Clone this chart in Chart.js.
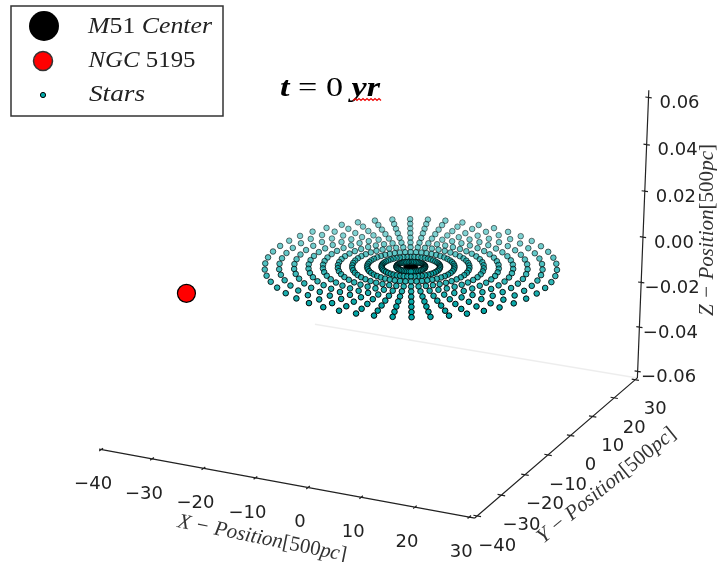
<!DOCTYPE html>
<html>
<head>
<meta charset="utf-8">
<title>M51 and NGC 5195</title>
<script src="https://cdn.jsdelivr.net/npm/chart.js@4"></script>
<style>
    html, body { margin: 0; padding: 0; background: #fff; }
    canvas { display: block; filter: blur(0.65px); }
</style>
</head>
<body>
<canvas id="chart" width="717" height="562"></canvas>
<script>
// Axis ticks
const xTicks = [-40, -30, -20, -10, 0, 10, 20, 30];
const yTicks = [-40, -30, -20, -10, 0, 10, 20, 30];
const zTicks = [-0.06, -0.04, -0.02, 0.00, 0.02, 0.04, 0.06];
const xLimits = [-41, 31];
const yLimits = [-41, 31];
const zLimits = [-0.063, 0.063];
const xAxisStart = -40.4;

// Stars sit on a polar grid around the M51 center
const m51Center = [0.4, -0.8, 0];
const ngc5195 = [-28.5, -29.6, 0];
const ringRadii = [2.5, 5.1, 7.6, 10.2, 12.7, 15.3, 17.8, 20.3, 22.9, 25.4];
const spokeAngles = [
    0, 7.2, 14.4, 21.6, 28.8, 36, 43.2, 50.4, 57.6, 64.8,
    72, 79.2, 86.4, 93.6, 100.8, 108, 115.2, 122.4, 129.6, 136.8,
    144, 151.2, 158.4, 165.6, 172.8, 180, 187.2, 194.4, 201.6, 208.8,
    216, 223.2, 230.4, 237.6, 244.8, 252, 259.2, 266.4, 273.6, 280.8,
    288, 295.2, 302.4, 309.6, 316.8, 324, 331.2, 338.4, 345.6, 352.8
];

// Camera, same idea as mplot3d
const elev = 25.5 * Math.PI / 180;
const azim = -64.6 * Math.PI / 180;
const dist = 10;

function project(x, y, z) {
    const px = (x - xLimits[0]) / (xLimits[1] - xLimits[0]) - 0.5;
    const py = (y - yLimits[0]) / (yLimits[1] - yLimits[0]) - 0.5;
    const pz = (z - zLimits[0]) / (zLimits[1] - zLimits[0]) - 0.5;
    const u = -Math.sin(azim) * px + Math.cos(azim) * py;
    const v = -Math.cos(azim) * Math.sin(elev) * px - Math.sin(azim) * Math.sin(elev) * py + Math.cos(elev) * pz;
    const w = Math.cos(azim) * Math.cos(elev) * px + Math.sin(azim) * Math.cos(elev) * py + Math.sin(elev) * pz;
    const s = dist / (dist - w);
    return { x: u * s, y: v * s, depth: -w };
}

// Build star points, far ones first so near ones paint on top
function buildStars() {
    const stars = [];
    ringRadii.forEach(r => {
        spokeAngles.forEach(a => {
            const rad = a * Math.PI / 180;
            stars.push(project(m51Center[0] + r * Math.cos(rad), m51Center[1] + r * Math.sin(rad), m51Center[2]));
        });
    });
    return stars.sort((p, q) => q.depth - p.depth);
}

// Axis lines and tick marks, NaN breaks the line between pieces
function buildAxes() {
    const gap = { x: NaN, y: NaN };
    const zLow = zLimits[0];
    const pts = [];
    pts.push(project(xAxisStart, yLimits[0], zLow), project(xLimits[1], yLimits[0], zLow), gap);
    pts.push(project(xLimits[1], yLimits[0], zLow), project(xLimits[1], yLimits[1], zLow), gap);
    pts.push(project(xLimits[1], yLimits[1], zLow), project(xLimits[1], yLimits[1], zLimits[1]), gap);
    xTicks.forEach(t => pts.push(project(t, yLimits[0] - 0.7, zLow), project(t, yLimits[0] + 0.7, zLow), gap));
    yTicks.forEach(t => pts.push(project(xLimits[1] - 0.7, t, zLow), project(xLimits[1] + 0.7, t, zLow), gap));
    zTicks.forEach(t => pts.push(project(xLimits[1] - 0.6, yLimits[1], t), project(xLimits[1] + 0.6, yLimits[1], t), gap));
    return pts;
}

function tickText(v, digits) {
    return v.toFixed(digits).replace('-', '\u2212');
}

// Mixed roman / italic text squeezed to a fixed width
function drawRuns(ctx, runs, cx, cy, width, size, rotation, color) {
    ctx.save();
    ctx.translate(cx, cy);
    ctx.rotate(rotation);
    let total = 0;
    runs.forEach(r => {
        ctx.font = `${r[1]} ${size}px "Liberation Serif"`;
        total += ctx.measureText(r[0]).width;
    });
    ctx.scale(width / total, 1);
    ctx.fillStyle = color;
    ctx.textAlign = 'left';
    ctx.textBaseline = 'alphabetic';
    let pos = -total / 2;
    runs.forEach(r => {
        ctx.font = `${r[1]} ${size}px "Liberation Serif"`;
        ctx.fillText(r[0], pos, 0);
        pos += ctx.measureText(r[0]).width;
    });
    ctx.restore();
}

// Tick labels, axis labels, title and legend box
const annotations = {
    id: 'annotations',
    afterDraw(chart) {
        const ctx = chart.ctx;
        const toPixel = p => ({ x: chart.scales.x.getPixelForValue(p.x), y: chart.scales.y.getPixelForValue(p.y) });

        ctx.save();
        ctx.font = '18px "DejaVu Sans"';
        ctx.fillStyle = '#222';
        ctx.textAlign = 'center';
        ctx.textBaseline = 'middle';
        xTicks.forEach(t => {
            const p = toPixel(project(t, yLimits[0], zLimits[0]));
            ctx.fillText(tickText(t, 0), p.x - 8, p.y + 35);
        });
        yTicks.forEach(t => {
            const p = toPixel(project(xLimits[1], t, zLimits[0]));
            ctx.fillText(tickText(t, 0), p.x + 20, p.y + 30);
        });
        zTicks.forEach(t => {
            const p = toPixel(project(xLimits[1], yLimits[1], t));
            ctx.fillText(tickText(t, 2), p.x + 31, p.y + 6);
        });
        ctx.restore();

        const it = 'italic', ro = 'normal';
        drawRuns(ctx, [['X \u2212 Position', it], ['[500', ro], ['pc', it], [']', ro]], 261, 544, 172, 21, 0.2, '#333');
        drawRuns(ctx, [['Y \u2212 Position', it], ['[500', ro], ['pc', it], [']', ro]], 610, 490, 172, 21, -0.68, '#333');
        drawRuns(ctx, [['Z \u2212 Position', it], ['[500', ro], ['pc', it], [']', ro]], 713, 230, 172, 21, -Math.PI / 2, '#333');

        // Title with the spell check squiggle
        drawRuns(ctx, [['t', 'italic bold'], [' = 0 ', 'normal'], ['yr', 'italic bold']], 330, 96, 100, 27, 0, '#000');
        ctx.save();
        ctx.strokeStyle = '#e00';
        ctx.lineWidth = 1.2;
        ctx.beginPath();
        for (let i = 0; i <= 14; i++) {
            const sx = 353 + i * 2;
            const sy = i % 2 ? 98.5 : 100.5;
            if (i === 0) ctx.moveTo(sx, sy); else ctx.lineTo(sx, sy);
        }
        ctx.stroke();
        ctx.restore();

        // Legend
        ctx.save();
        ctx.fillStyle = '#fff';
        ctx.strokeStyle = '#333';
        ctx.lineWidth = 1.5;
        ctx.fillRect(11, 6, 212, 110);
        ctx.strokeRect(11, 6, 212, 110);
        ctx.fillStyle = '#000';
        ctx.beginPath(); ctx.arc(44, 26, 15, 0, Math.PI * 2); ctx.fill();
        ctx.fillStyle = '#f00';
        ctx.beginPath(); ctx.arc(43, 61, 9.5, 0, Math.PI * 2); ctx.fill(); ctx.stroke();
        ctx.fillStyle = '#00aaaa';
        ctx.lineWidth = 1;
        ctx.strokeStyle = '#000';
        ctx.beginPath(); ctx.arc(43, 95, 2.6, 0, Math.PI * 2); ctx.fill(); ctx.stroke();
        ctx.restore();
        drawRuns(ctx, [['M', it], ['51 ', ro], ['Center', it]], 150, 33, 124, 24, 0, '#222');
        drawRuns(ctx, [['NGC', it], [' 5195', ro]], 142, 67, 107, 24, 0, '#222');
        drawRuns(ctx, [['Stars', it]], 117, 101, 56, 24, 0, '#222');
    }
};

// Initialize chart
document.addEventListener('DOMContentLoaded', () => {
    const ctx = document.getElementById('chart').getContext('2d');
    new Chart(ctx, {
        type: 'scatter',
        data: {
            datasets: [
                {
                    label: 'Stars',
                    data: buildStars(),
                    pointRadius: 2.8,
                    borderWidth: 1,
                    backgroundColor: c => `rgba(0, 165, 165, ${starAlpha(c)})`,
                    borderColor: c => `rgba(0, 0, 0, ${starAlpha(c)})`
                },
                {
                    label: 'M51 Center',
                    data: [project(m51Center[0], m51Center[1], m51Center[2])],
                    backgroundColor: '#000',
                    borderColor: '#000',
                    pointRadius: 7
                },
                {
                    label: 'NGC 5195',
                    data: [project(ngc5195[0], ngc5195[1], ngc5195[2])],
                    backgroundColor: '#f00',
                    borderColor: '#000',
                    borderWidth: 1.2,
                    pointRadius: 9
                },
                {
                    label: 'Pane edge',
                    data: [project(-34, yLimits[1], zLimits[0]), project(xLimits[1], yLimits[1], zLimits[0])],
                    showLine: true,
                    borderColor: 'rgba(0, 0, 0, 0.07)',
                    borderWidth: 1.5,
                    pointRadius: 0
                },
                {
                    label: 'Axes',
                    data: buildAxes(),
                    showLine: true,
                    borderColor: '#222',
                    borderWidth: 1.2,
                    pointRadius: 0
                }
            ]
        },
        options: {
            responsive: false,
            animation: false,
            layout: { padding: 0 },
            plugins: { legend: { display: false }, tooltip: { enabled: false } },
            scales: {
                x: { type: 'linear', display: false, min: -0.873, max: 0.806 },
                y: { type: 'linear', display: false, min: -0.872, max: 0.801 }
            }
        },
        plugins: [annotations]
    });
});

// Depth shading, far stars fade out
function starAlpha(c) {
    const p = c.raw;
    if (!p) return 1;
    const a = 0.95 - (p.depth + 0.2) * 1.1;
    return Math.max(0.5, Math.min(1, a)).toFixed(2);
}
</script>
</body>
</html>
